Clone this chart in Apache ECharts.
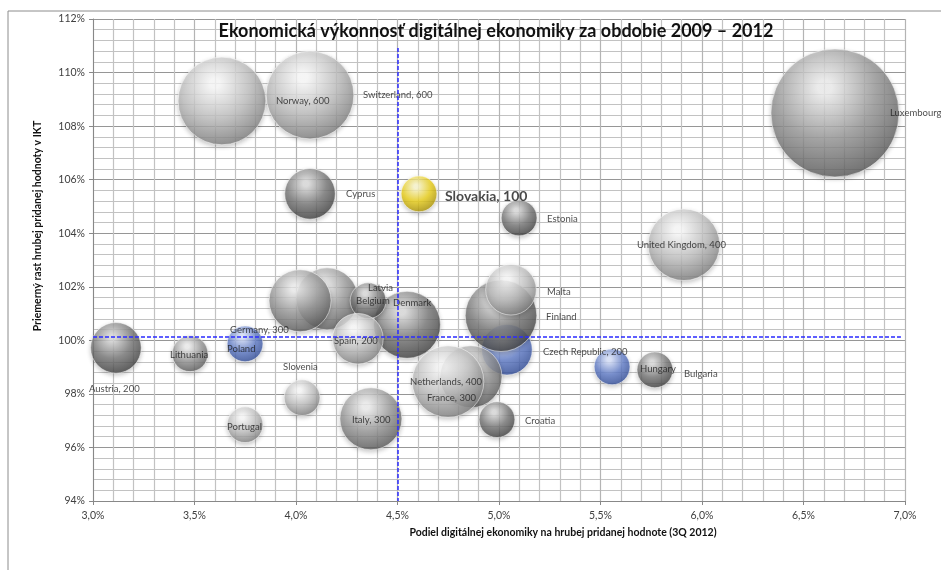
<!DOCTYPE html>
<html>
<head>
<meta charset="utf-8">
<script src="https://cdn.jsdelivr.net/npm/echarts@6/dist/echarts.min.js"></script>
<style>
  html, body { margin: 0; padding: 0; background: #fff; }
  #chart { width: 941px; height: 570px; }
</style>
</head>
<body>
<div id="chart"></div>
<script>
// dáta odčítané z grafu (poradie = poradie kreslenia, zadné bubliny skôr)
const countries = [
  'Luxembourg', 'Norway', 'Switzerland', 'Cyprus', 'Slovakia', 'Estonia', 'United Kingdom',
  'Belgium', 'Germany', 'Denmark', 'Latvia', 'Czech Republic', 'Finland', 'Malta',
  'France', 'Netherlands', 'Spain', 'Austria', 'Lithuania', 'Poland', 'Slovenia',
  'Portugal', 'Italy', 'Croatia', 'Hungary', 'Bulgaria',
]
// podiel digitálnej ekonomiky na HPH (%)
const shareDigital = [
  6.655, 3.635, 4.069, 4.069, 4.606, 5.099, 5.911,
  4.153, 4.020, 4.547, 4.355, 5.039, 5.010, 5.059,
  4.862, 4.749, 4.305, 3.113, 3.478, 3.749, 4.030,
  3.749, 4.369, 4.990, 5.557, 5.768,
]
// priemerný rast HPH v IKT (%)
const growthGva = [
  108.49, 108.94, 109.16, 105.47, 105.47, 104.57, 103.57,
  101.55, 101.48, 100.58, 101.48, 99.65, 100.92, 101.89,
  98.64, 98.46, 100.06, 99.72, 99.50, 99.87, 97.86,
  96.85, 97.07, 97.04, 99.01, 98.90,
]
const bubbleSize = [
  1280, 600, 600, 200, 100, 100, 400,
  300, 300, 350, 100, 200, 400, 200,
  300, 400, 200, 200, 100, 100, 100,
  100, 300, 100, 100, 100,
]
const pointLabels = [
  'Luxembourg', 'Norway, 600', 'Switzerland, 600', 'Cyprus', 'Slovakia, 100', 'Estonia', 'United Kingdom, 400',
  'Belgium', 'Germany, 300', 'Denmark', 'Latvia', 'Czech Republic, 200', 'Finland', 'Malta',
  'France, 300', 'Netherlands, 400', 'Spain, 200', 'Austria, 200', 'Lithuania', 'Poland', 'Slovenia',
  'Portugal', 'Italy, 300', 'Croatia', 'Hungary', 'Bulgaria',
]
const avgShare = 4.5
const avgGrowth = 100.15
const xTicks = [3.0, 3.5, 4.0, 4.5, 5.0, 5.5, 6.0, 6.5, 7.0]
const yTicks = [94, 96, 98, 100, 102, 104, 106, 108, 110, 112]

// --- štýl ---
const FONT = 'Lato, "Open Sans", sans-serif'

// posun popisu voči stredu bubliny [dx, dy] (text zarovnaný vľavo)
const labelOffset = {
  Luxembourg: [55, 0], Norway: [54, 0], Switzerland: [53, 0], Cyprus: [36, 0],
  Slovakia: [26, 3], Estonia: [28, 1], 'United Kingdom': [-47, 0], Belgium: [29, 2],
  Germany: [-70, 29], Denmark: [-14, -22], Latvia: [0, -13], 'Czech Republic': [36, 2],
  Finland: [45, 1], Malta: [36, 2], France: [-44, 21], Netherlands: [-38, 0],
  Spain: [-24, 2], Austria: [-27, 41], Lithuania: [-20, 1], Poland: [-18, 5],
  Slovenia: [-19, -31], Portugal: [-18, 2], Italy: [-19, 1], Croatia: [28, 1],
  Hungary: [28, 2], Bulgaria: [29, 4],
}

const tones = {
  light: ['#ffffff', '#c2c2c2', '#6c6c6c'],
  medium: ['#f2f2f2', '#9a9a9a', '#4a4a4a'],
  dark: ['#dedede', '#7a7a7a', '#303030'],
  blue: ['#dbe5ff', '#6480cc', '#25408c'],
  yellow: ['#fffbd0', '#efd41c', '#9a8200'],
}
const toneOf = {
  Luxembourg: 'medium', Norway: 'light', Switzerland: 'light', Cyprus: 'dark',
  Slovakia: 'yellow', Estonia: 'dark', 'United Kingdom': 'light', Belgium: 'medium',
  Germany: 'medium', Denmark: 'dark', Latvia: 'dark', 'Czech Republic': 'blue',
  Finland: 'dark', Malta: 'light', France: 'medium', Netherlands: 'light',
  Spain: 'light', Austria: 'dark', Lithuania: 'medium', Poland: 'blue',
  Slovenia: 'light', Portugal: 'light', Italy: 'medium', Croatia: 'dark',
  Hungary: 'blue', Bulgaria: 'dark',
}

const sphere = (name) => {
  const [hi, base, edge] = tones[toneOf[name]]
  return {
    type: 'radial', x: 0.42, y: 0.3, r: 0.8,
    colorStops: [
      { offset: 0, color: hi },
      { offset: 0.07, color: hi },
      { offset: 0.5, color: base },
      { offset: 1, color: edge },
    ],
  }
}

const data = countries.map((name, i) => {
  const bold = name === 'Slovakia'
  return {
    name,
    value: [shareDigital[i], growthGva[i], bubbleSize[i]],
    itemStyle: {
      color: sphere(name),
      borderColor: 'rgba(255,255,255,0.8)',
      borderWidth: 0.8,
      shadowBlur: 4,
      shadowOffsetY: 2,
      shadowColor: 'rgba(0,0,0,0.25)',
    },
    label: {
      show: true,
      position: 'inside',
      align: 'left',
      verticalAlign: 'middle',
      offset: labelOffset[name],
      formatter: pointLabels[i],
      color: '#1a1a1a',
      fontFamily: FONT,
      fontSize: bold ? 14 : 9.5,
      fontWeight: bold ? 'bold' : 'normal',
    },
  }
})

const chart = echarts.init(document.getElementById('chart'), null, { renderer: 'canvas' })

const pct1 = (v) => v.toFixed(1).replace('.', ',') + '%'

chart.setOption({
  animation: false,
  backgroundColor: '#fff',
  grid: { left: 93, right: 36, top: 19, bottom: 69, containLabel: false },
  xAxis: {
    type: 'value',
    min: xTicks[0],
    max: xTicks[xTicks.length - 1],
    interval: 0.5,
    axisLine: { show: true, lineStyle: { color: '#888', width: 1 } },
    axisTick: { show: true, length: 4, lineStyle: { color: '#888' } },
    axisLabel: { color: '#404040', fontFamily: FONT, fontSize: 10.5, margin: 9, formatter: pct1 },
    splitLine: { show: true, lineStyle: { color: '#b4b4b4', width: 1.2 } },
    minorTick: { show: false, splitNumber: 5 },
    minorSplitLine: { show: true, lineStyle: { color: '#c2c2c2', width: 1.2 } },
  },
  yAxis: {
    type: 'value',
    min: yTicks[0],
    max: yTicks[yTicks.length - 1],
    interval: 2,
    axisLine: { show: true, lineStyle: { color: '#888', width: 1 } },
    axisTick: { show: true, length: 4, lineStyle: { color: '#888' } },
    axisLabel: { color: '#404040', fontFamily: FONT, fontSize: 10.5, margin: 8, formatter: (v) => v + '%' },
    splitLine: { show: true, lineStyle: { color: '#969696', width: 1.2 } },
    minorTick: { show: false, splitNumber: 5 },
    minorSplitLine: { show: true, lineStyle: { color: '#c2c2c2', width: 1.2 } },
  },
  graphic: [
    {
      type: 'rect', silent: true, z: -1,
      shape: { x: 8, y: 11, width: 960, height: 600 },
      style: { fill: 'none', stroke: '#8c8c8c', lineWidth: 1 },
    },
    {
      type: 'text', x: 496, y: 31, z: 10,
      style: {
        text: 'Ekonomická výkonnosť digitálnej ekonomiky za obdobie 2009 – 2012',
        fill: '#111', font: 'bold 18px ' + FONT, align: 'center', verticalAlign: 'middle',
      },
    },
    {
      type: 'text', x: 563, y: 533,
      style: {
        text: 'Podiel digitálnej ekonomiky na hrubej pridanej hodnote (3Q 2012)',
        fill: '#111', font: 'bold 10.5px ' + FONT, align: 'center', verticalAlign: 'middle',
      },
    },
    {
      type: 'text', x: 38, y: 226, rotation: Math.PI / 2,
      style: {
        text: 'Priemerný rast hrubej pridanej hodnoty v IKT',
        fill: '#111', font: 'bold 10.5px ' + FONT, align: 'center', verticalAlign: 'middle',
      },
    },
  ],
  series: [
    {
      type: 'scatter',
      data,
      symbol: 'circle',
      symbolSize: (val) => 3.58 * Math.sqrt(val[2]),
      emphasis: { disabled: true },
      markLine: {
        silent: true,
        symbol: 'none',
        z: 10,
        label: { show: false },
        lineStyle: { color: '#2b2bff', type: [4, 2], width: 1.5 },
        data: [
          [{ coord: [avgShare, 110.92] }, { coord: [avgShare, yTicks[0]] }],
          [{ coord: [xTicks[0], avgGrowth] }, { coord: [6.98, avgGrowth] }],
        ],
      },
    },
  ],
})
</script>
</body>
</html>
